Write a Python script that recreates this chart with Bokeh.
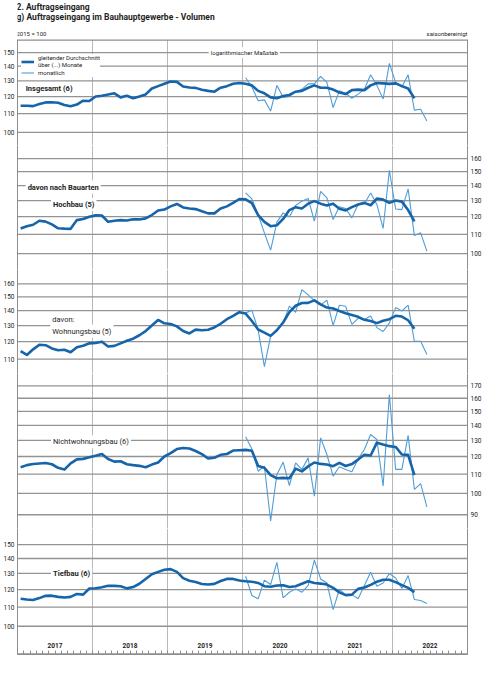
from bokeh.plotting import figure
from bokeh.models import (FixedTicker, LinearAxis, LogAxis, Range1d, Label, Legend,
                          LegendItem, BasicTickFormatter)
from bokeh.layouts import column
from bokeh.embed import file_html
from bokeh.resources import INLINE

FONT = "Roboto"

# ---------------- data (2015 = 100, seasonally adjusted) ----------------
years = [2017, 2018, 2019, 2020, 2021, 2022]
ma_first_month = 0      # moving averages start Jan 2017 (month index)
m_first_month = 36      # monthly values start Jan 2020 (month index)

insg_ma = [114.5, 114.5, 114.3, 115.5, 116.5, 116.6, 116.3, 115.0, 114.2, 115.2, 117.5, 117.3,
           120.0, 120.5, 121.2, 122.0, 119.5, 120.5, 119.0, 120.0, 121.3, 125.0, 126.5, 128.0,
           129.5, 129.3, 126.3, 125.6, 125.4, 124.2, 123.5, 123.0, 125.5, 126.5, 128.0, 128.5,
           128.0, 127.0, 123.5, 122.0, 119.5, 119.0, 120.3, 121.0, 123.0, 123.5, 125.5, 127.0,
           125.5, 125.5, 124.3, 122.5, 121.5, 124.0, 124.3, 124.0, 127.0, 128.5, 128.3, 128.0,
           128.3, 126.5, 125.0, 119.0]
insg_m = [132, 126, 117.5, 118, 111.5, 127, 119.5, 120, 123, 124.5, 128, 128,
          133, 129, 113.5, 123.5, 122, 119, 121.5, 124.5, 134, 127, 118.5, 142,
          129, 126, 134, 112, 112.5, 106]

hoch_ma = [113.2, 114.5, 115.3, 117.6, 117.1, 115.5, 113.3, 113.1, 113.0, 118.0, 118.6, 120.0,
           120.8, 120.7, 117.0, 117.6, 118.0, 117.8, 118.5, 118.4, 119.0, 121.0, 123.7, 124.3,
           126.3, 127.8, 125.6, 125.0, 124.6, 123.3, 122.0, 122.0, 125.0, 126.3, 128.5, 131.0,
           130.8, 128.3, 121.0, 117.0, 114.5, 115.0, 118.7, 124.0, 125.8, 125.0, 128.0, 129.6,
           128.0, 126.8, 128.0, 124.8, 123.8, 125.8, 127.5, 128.5, 127.0, 131.3, 130.6, 128.5,
           130.0, 129.3, 124.0, 117.2]
hoch_m = [135, 131, 121.3, 110.8, 101.7, 116.8, 122.3, 120, 126.8, 129.6, 131.3, 117.4,
          136, 131.7, 118.3, 126, 125, 119.3, 127.5, 128, 135, 127.5, 113.2, 151,
          124.7, 124.3, 137.7, 109.3, 110.8, 101.2]

wohn_ma = [114.5, 112.3, 115.5, 118.2, 117.9, 116.0, 115.0, 115.3, 113.8, 116.7, 117.6, 119.0,
           119.2, 120.0, 117.1, 117.5, 119.0, 120.5, 121.8, 123.9, 126.5, 130.0, 133.7, 131.5,
           131.0, 129.5, 126.5, 125.0, 127.4, 127.0, 127.3, 128.8, 131.2, 134.2, 136.4, 139.0,
           138.0, 133.0, 127.5, 125.5, 123.5, 127.0, 132.0, 139.0, 143.5, 145.5, 145.6, 147.4,
           144.5, 142.2, 141.6, 139.8, 138.2, 137.0, 135.8, 133.8, 133.0, 131.6, 133.2, 134.2,
           136.5, 136.0, 133.5, 128.0]
wohn_m = [138.5, 140.4, 127.2, 106, 123.3, 127.6, 131.6, 143.2, 138.8, 155.5, 151.5, 147.2,
          143.9, 147.6, 130.1, 143.9, 143.1, 130.8, 134.8, 134, 136.4, 128.7, 126.2, 131.6,
          142.2, 139.8, 143.9, 120.2, 120.2, 112.6]

nichtw_ma = [113.8, 115.0, 115.6, 115.9, 116.2, 115.5, 113.5, 112.5, 116.0, 118.3, 118.6, 119.5,
             120.5, 121.5, 118.5, 117.0, 117.2, 115.5, 115.0, 114.6, 113.8, 115.3, 116.5, 120.0,
             122.0, 124.5, 125.2, 124.8, 123.3, 121.4, 118.8, 119.3, 121.0, 121.5, 123.6, 123.8,
             124.0, 123.5, 114.5, 113.5, 109.5, 107.8, 108.0, 107.8, 113.0, 111.5, 114.3, 116.5,
             115.7, 115.4, 114.4, 116.3, 114.5, 115.6, 118.2, 121.0, 120.6, 128.5, 127.3, 126.3,
             125.8, 121.2, 121.0, 109.5]
nichtw_m = [132.3, 124.6, 111.6, 114.4, 87.3, 109.8, 116.7, 104, 116.3, 112.6, 119.2, 98.7,
            131.6, 121.2, 108.9, 114.1, 112.6, 111.3, 118.6, 124.2, 133.8, 130.5, 103.7, 163,
            112.6, 112.6, 133.2, 102, 105, 93.6]

tief_ma = [114.6, 114.2, 113.9, 115.0, 116.3, 116.4, 115.7, 115.3, 115.7, 117.4, 117.0, 120.6,
           120.8, 121.4, 122.3, 122.2, 122.0, 120.7, 121.5, 123.5, 126.5, 129.5, 131.0, 132.4,
           132.8, 131.0, 127.0, 125.4, 124.6, 123.3, 123.0, 123.4, 125.2, 126.5, 126.5, 125.5,
           125.0, 124.7, 124.0, 122.0, 121.7, 122.4, 122.6, 121.5, 122.0, 123.5, 125.0, 124.0,
           123.6, 123.0, 121.0, 118.3, 116.7, 117.0, 120.4, 121.2, 122.8, 124.8, 126.0, 126.0,
           124.5, 122.7, 121.0, 118.5]
tief_m = [128.2, 116.5, 114.6, 125.7, 123, 137.4, 115.1, 118.4, 120.4, 118.4, 122.4, 138.8,
          126.5, 124, 108.6, 120, 117, 117, 114.6, 122.4, 130.8, 122, 124, 129.9,
          127.1, 120.6, 128.6, 114.2, 113.6, 111.9]

insg_ticks = [100.0, 110.0, 120.0, 130.0, 140.0, 150.0]
hoch_ticks = [100.0, 110.0, 120.0, 130.0, 140.0, 150.0, 160.0]
wohn_ticks = [110.0, 120.0, 130.0, 140.0, 150.0, 160.0]
nichtw_ticks = [90.0, 100.0, 110.0, 120.0, 130.0, 140.0, 150.0, 160.0, 170.0]
tief_ticks = [100.0, 110.0, 120.0, 130.0, 140.0, 150.0]

# ---------------- styling ----------------
C_MA = "#1665ab"
C_M = "#4f9dd6"
GRID_H = "#939393"
GRID_V = "#b8b8b8"
BORDER = "#8e8e8e"
TXT = "#1e1e1e"
W = 485
ML, MR = 15, 18
N_MONTHS = 12 * len(years)

year_bounds = [12 * k for k in range(1, len(years))]


def month_x(first, n):
    return [first + k + 0.5 for k in range(n)]


def hrules(p, levels, color, thickness):
    """horizontal rules drawn as thin filled bars (screen-unit height)"""
    p.rect(x=[N_MONTHS / 2] * len(levels), y=levels, width=N_MONTHS, height=thickness,
           height_units="screen", fill_color=color, line_color=None)


def make_panel(height, y_lo, y_hi, ticks, side, min_bottom=0):
    p = figure(width=W, height=height, x_range=Range1d(0, N_MONTHS),
               y_range=Range1d(y_lo, y_hi), y_axis_type="log",
               x_axis_location=None, y_axis_location=None,
               output_backend="svg", toolbar_location=None,
               min_border_left=ML, min_border_right=MR,
               min_border_top=0, min_border_bottom=min_bottom)
    p.outline_line_color = None
    p.xgrid.ticker = FixedTicker(ticks=year_bounds)
    p.xgrid.grid_line_color = GRID_V
    p.xgrid.grid_line_width = 1
    p.ygrid.visible = False
    hrules(p, ticks, GRID_H, 1.3)
    for loc in ("left", "right"):
        ax = LogAxis(ticker=FixedTicker(ticks=ticks if loc == side else []),
                     formatter=BasicTickFormatter())
        ax.axis_line_color = BORDER
        ax.axis_line_width = 1
        ax.major_tick_line_color = None
        ax.minor_tick_line_color = None
        ax.major_tick_out = 0
        ax.major_tick_in = 0
        ax.major_label_standoff = 3
        ax.major_label_text_font = FONT
        ax.major_label_text_font_size = "6.5px"
        ax.major_label_text_color = TXT
        p.add_layout(ax, loc)
    return p


def add_series(p, ma, m):
    r_m = p.line(month_x(m_first_month, len(m)), m, line_color=C_M, line_width=1.1)
    r_ma = p.line(month_x(ma_first_month, len(ma)), ma, line_color=C_MA, line_width=2.6,
                  line_join="round")
    return r_ma, r_m


def add_label(p, x, y, text, size="7.5px", bold=False, bg=True):
    lab = Label(x=x, y=y, text=text, text_font=FONT, text_font_size=size,
                text_font_style="bold" if bold else "normal", text_color=TXT,
                text_baseline="middle", text_align="left")
    if bg:
        lab.background_fill_color = "white"
        lab.padding = 2
    p.add_layout(lab)


# ---------------- header ----------------
HEAD_H = 39
head = figure(width=W, height=HEAD_H, x_range=Range1d(0, N_MONTHS), y_range=Range1d(0, HEAD_H),
              x_axis_location=None, y_axis_location=None, output_backend="svg",
              toolbar_location=None, min_border_left=ML, min_border_right=MR,
              min_border_top=0, min_border_bottom=0)
head.outline_line_color = None
head.grid.visible = False
for yy, txt, sz, st, al, xx in [
        (32.5, "2. Auftragseingang", "8.5px", "bold", "left", 0),
        (22.5, "g) Auftragseingang im Bauhauptgewerbe - Volumen", "8.5px", "bold", "left", 0),
        (6.0, "2015 = 100", "6px", "normal", "left", 0),
        (6.0, "saisonbereinigt", "6px", "normal", "right", N_MONTHS)]:
    head.add_layout(Label(x=xx, y=yy, text=txt, text_font=FONT, text_font_size=sz,
                          text_font_style=st, text_align=al, text_baseline="middle",
                          text_color=TXT, x_offset=-1 if al == "left" else 0))

# ---------------- panels ----------------
p1 = make_panel(106, 93.6, 160.3, insg_ticks, "left")
hrules(p1, [p1.y_range.end], BORDER, 2.4)          # top frame line
r_ma1, r_m1 = add_series(p1, insg_ma, insg_m)
add_label(p1, 1.3, 124.8, "Insgesamt (6)", bold=True, bg=False)
add_label(p1, 30.6, 150, "logarithmischer Maßstab", size="6px")
legend = Legend(items=[LegendItem(label="gleitender Durchschnitt\nüber (...) Monate", renderers=[r_ma1]),
                       LegendItem(label="monatlich", renderers=[r_m1])],
                location=(4, 68))
legend.label_text_font = FONT
legend.label_text_font_size = "6px"
legend.label_text_line_height = 1.5
legend.label_text_color = TXT
legend.label_height = 9
legend.glyph_height = 9
legend.glyph_width = 13
legend.label_standoff = 4
legend.spacing = 0
legend.padding = 2
legend.margin = 0
legend.border_line_color = None
legend.background_fill_color = "white"
legend.background_fill_alpha = 1
p1.add_layout(legend)

p2 = make_panel(124, 92.4, 170.7, hoch_ticks, "right")
add_series(p2, hoch_ma, hoch_m)
add_label(p2, 1.3, 139, "davon nach Bauarten", bold=True)
add_label(p2, 5.36, 127.5, "Hochbau (5)", bold=True)

p3 = make_panel(104, 102.4, 171.9, wohn_ticks, "left")
add_series(p3, wohn_ma, wohn_m)
add_label(p3, 5.25, 134.1, "davon:")
add_label(p3, 5.25, 126.4, "Wohnungsbau (5)")

p4 = make_panel(155, 84.1, 180.8, nichtw_ticks, "right")
add_series(p4, nichtw_ma, nichtw_m)
add_label(p4, 5.36, 129.1, "Nichtwohnungsbau (6)")

# last panel: frame reaches down to the month-tick axis line, year names inside it
p5 = make_panel(129, 86.9, 162.5, tief_ticks, "left", min_bottom=3)
hrules(p5, [p5.y_range.start], BORDER, 2.4)        # bottom frame line
add_series(p5, tief_ma, tief_m)
add_label(p5, 5.36, 129.7, "Tiefbau (6)", bold=True)

year_mid = [12 * k + 6 for k in range(len(years))]
for t, yr in zip(year_mid, years):
    p5.add_layout(Label(x=t, y=9, y_units="screen", text=str(yr), text_font=FONT,
                        text_font_size="6.5px", text_font_style="bold", text_color=TXT,
                        text_align="center", text_baseline="middle"))

tick_ax = LinearAxis(ticker=FixedTicker(ticks=[], minor_ticks=list(range(N_MONTHS + 1))))
tick_ax.axis_line_color = BORDER
tick_ax.minor_tick_line_color = BORDER
tick_ax.minor_tick_in = 4
tick_ax.minor_tick_out = 0
tick_ax.major_tick_out = 0
p5.add_layout(tick_ax, "below")

layout = column(head, p1, p2, p3, p4, p5, spacing=0)

open("out.html", "w").write(file_html(layout, INLINE))
